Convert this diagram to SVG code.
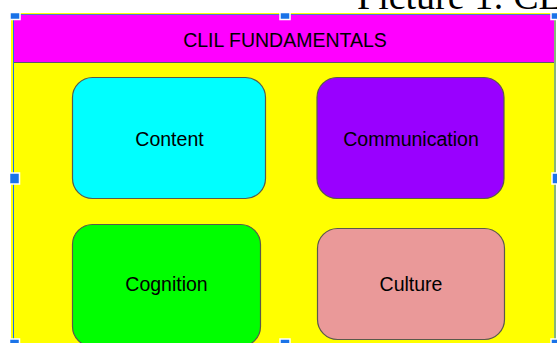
<svg xmlns="http://www.w3.org/2000/svg" width="557" height="343" viewBox="0 0 557 343">
  <style>
    .box { stroke: #5a5a4a; stroke-width: 1.2; }
    .label { font-family: "Liberation Sans", Arial, sans-serif; font-size: 19.5px; fill: #000; text-anchor: middle; }
    .handle { fill: #1a73e8; stroke: #ffffff; stroke-width: 1.5; }
  </style>

  <rect width="557" height="343" fill="#ffffff"/>

  <!-- caption, clipped at the right edge -->
  <text x="357" y="9" font-family="'Liberation Serif', 'Times New Roman', serif" font-size="38" fill="#000">Picture 1: CLIL</text>

  <!-- background panel -->
  <g id="panel">
    <rect x="11" y="13" width="545" height="335" fill="#ffff00"/>
    <rect x="14" y="14.5" width="540" height="48" fill="#ff00ff"/>
    <line x1="14" y1="62.5" x2="554" y2="62.5" stroke="#5a5a6a" stroke-width="1.2"/>
  </g>

  <g id="header">
    <text class="label" x="285" y="47">CLIL FUNDAMENTALS</text>
  </g>

  <g id="content">
    <rect class="box" x="72.5" y="77.5" width="193" height="121" rx="20" fill="#00ffff"/>
    <text class="label" x="169.5" y="146">Content</text>
  </g>

  <g id="communication">
    <rect class="box" x="317" y="77.5" width="187" height="121" rx="20" fill="#9900ff"/>
    <text class="label" x="411" y="146">Communication</text>
  </g>

  <g id="cognition">
    <rect class="box" x="72.5" y="224.5" width="188" height="122" rx="20" fill="#00ff00"/>
    <text class="label" x="166.5" y="291">Cognition</text>
  </g>

  <g id="culture">
    <rect class="box" x="317.5" y="228.5" width="187" height="111" rx="20" fill="#ea9999"/>
    <text class="label" x="411" y="291">Culture</text>
  </g>

  <!-- selection frame and handles -->
  <g id="selection">
    <line x1="13.5" y1="14" x2="13.5" y2="343" stroke="#1a73e8" stroke-width="1"/>
    <line x1="13.5" y1="14.5" x2="555" y2="14.5" stroke="#1a73e8" stroke-width="0.8"/>
    <line x1="555" y1="14" x2="555" y2="343" stroke="#5f9ea0" stroke-width="1.5"/>
    <rect class="handle" x="10" y="12.5" width="10" height="7"/>
    <rect class="handle" x="280" y="12.5" width="10" height="7"/>
    <rect class="handle" x="551" y="12.5" width="10" height="7"/>
    <rect class="handle" x="9.5" y="173" width="10" height="11"/>
    <rect class="handle" x="552" y="173" width="10" height="11"/>
    <rect class="handle" x="9.5" y="339" width="10" height="10"/>
    <rect class="handle" x="280" y="339" width="10" height="10"/>
    <rect class="handle" x="551" y="339" width="10" height="10"/>
  </g>
</svg>
